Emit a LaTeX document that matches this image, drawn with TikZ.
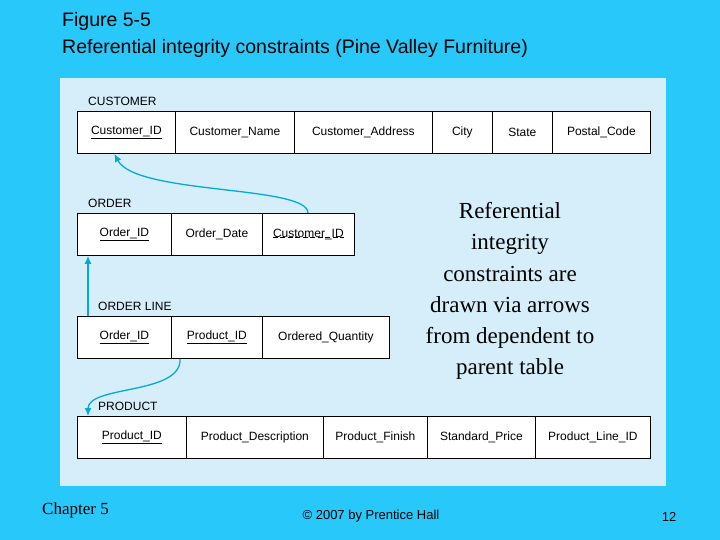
\documentclass[tikz,border=0pt]{standalone}
\usepackage{fontspec}
\setmainfont{Liberation Sans}
\newfontfamily\tnr{Liberation Serif}
\usetikzlibrary{arrows.meta}
\definecolor{slidebg}{RGB}{40,200,250}
\definecolor{panel}{RGB}{214,238,250}
\definecolor{fkc}{RGB}{0,170,220}
\begin{document}
\begin{tikzpicture}[x=1pt,y=-1pt,
 cell/.style={draw=black,thick,fill=white,minimum height=42pt,inner sep=0pt,font=\fontsize{12}{13}\selectfont,anchor=north west},
 lbl/.style={anchor=west,font=\fontsize{12}{13}\selectfont,inner sep=0pt},
 fk/.style={draw=fkc,line width=1.3pt,-{Latex[length=8pt,width=7pt]}}]
\fill[slidebg] (0,0) rectangle (720,540);
\useasboundingbox (0,0) rectangle (720,540);
\fill[panel] (60,78) rectangle (666,486);
\node[anchor=west,font=\fontsize{19.5}{27}\selectfont,align=left,inner sep=0pt] (title) at (62,35) {Figure 5-5\\Referential integrity constraints (Pine Valley Furniture)};
\newcommand{\mycell}[5]{\node[cell,minimum width=#3-#2] (#1) at (#2,#4) {#5};}
% CUSTOMER
\node[lbl] (lc) at (88,101) {CUSTOMER};
\mycell{c1}{77}{175}{111}{\underline{Customer\_ID}}
\mycell{c2}{175}{294}{111}{Customer\_Name}
\mycell{c3}{294}{432}{111}{Customer\_Address}
\mycell{c4}{432}{492}{111}{City}
\mycell{c5}{492}{552}{111}{State}
\mycell{c6}{552}{650}{111}{Postal\_Code}
% ORDER
\node[lbl] (lo) at (88,203) {ORDER};
\mycell{o1}{77}{171}{213}{\underline{Order\_ID}}
\mycell{o2}{171}{262}{213}{Order\_Date}
\mycell{o3}{262}{354}{213}{}
\node[font=\fontsize{12}{13}\selectfont,inner sep=0pt] (o3t) at (o3) {Customer\_ID};
\draw[dash pattern=on 5pt off 2.5pt] ([yshift=3pt]o3t.south west) -- ([yshift=3pt]o3t.south east);
% ORDER LINE
\node[lbl] (ll) at (98,306) {ORDER LINE};
\mycell{l1}{77}{171}{316}{\underline{Order\_ID}}
\mycell{l2}{171}{262}{316}{\underline{Product\_ID}}
\mycell{l3}{262}{389}{316}{Ordered\_Quantity}
% PRODUCT
\node[lbl] (lp) at (98,406) {PRODUCT};
\mycell{p1}{77}{186}{416}{\underline{Product\_ID}}
\mycell{p2}{186}{323}{416}{Product\_Description}
\mycell{p3}{323}{427}{416}{Product\_Finish}
\mycell{p4}{427}{535}{416}{Standard\_Price}
\mycell{p5}{535}{650}{416}{Product\_Line\_ID}
% arrows
\draw[fk] ([xshift=46pt]o3.north west) .. controls (308,185) and (136,195) .. ([xshift=-12pt]c1.south);
\draw[fk] ([xshift=11pt]l1.north west) -- ([xshift=11pt]o1.south west);
\draw[fk] ([xshift=9pt]l2.south west) .. controls (182,395) and (88,385) .. ([xshift=11pt]p1.north west);
% note
\node[font=\tnr\fontsize{23}{31.3}\selectfont,align=center] (note) at (510,291) {Referential\\integrity\\constraints are\\drawn via arrows\\from dependent to\\parent table};
\node[font=\tnr\fontsize{17}{19}\selectfont,anchor=west,inner sep=0pt] (ch) at (42,510) {Chapter 5};
\node[font=\fontsize{13}{15}\selectfont] (cp) at (371,516) {© 2007 by Prentice Hall};
\node[font=\fontsize{13}{15}\selectfont] (pg) at (669,517) {12};
\end{tikzpicture}
\end{document}
